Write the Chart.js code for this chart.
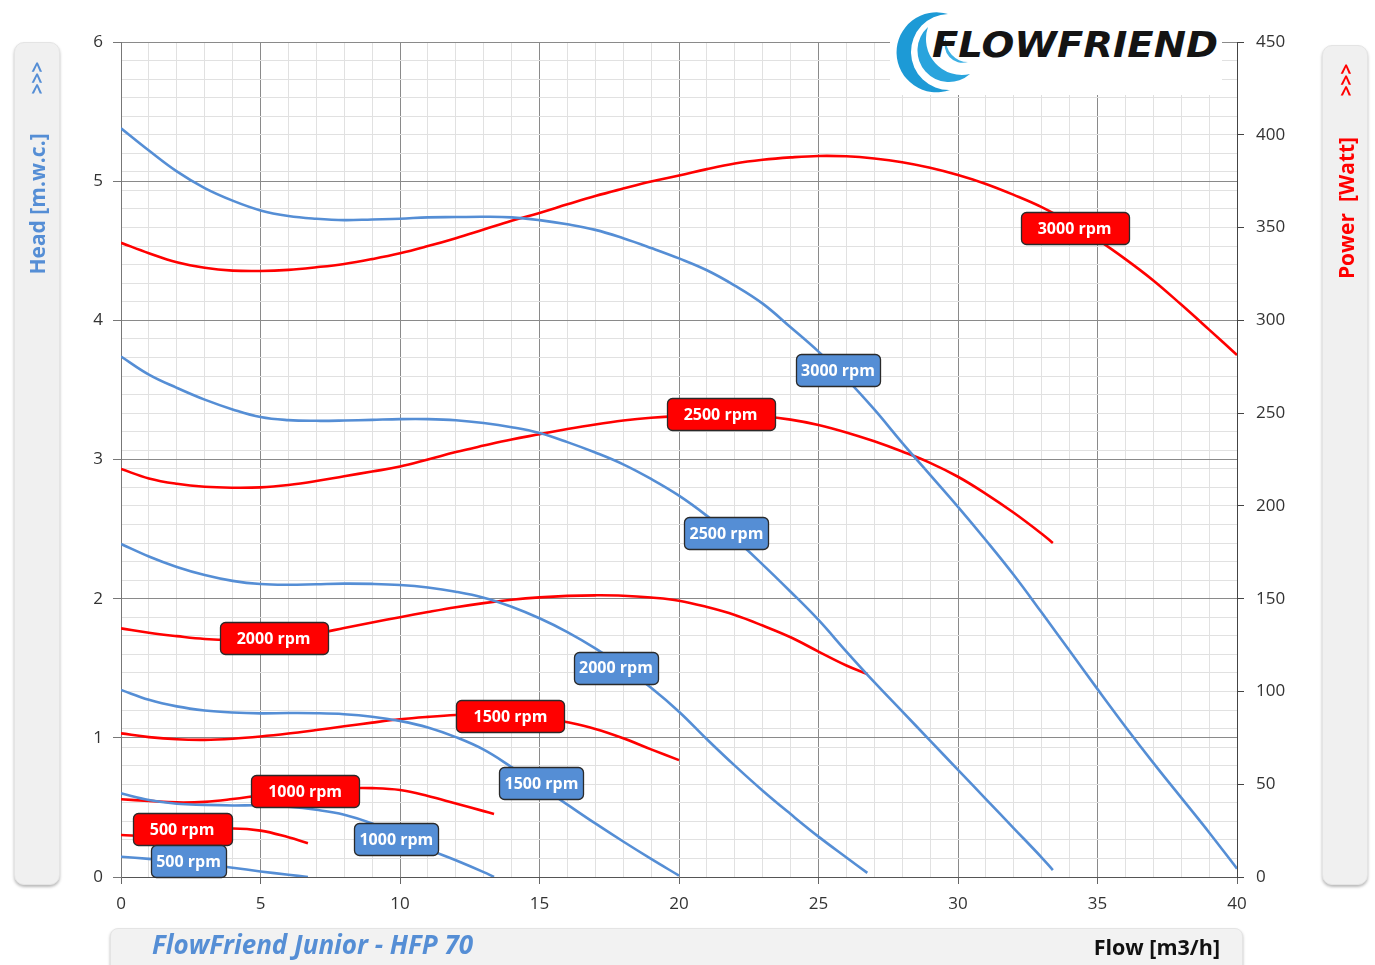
<!DOCTYPE html>
<html>
<head>
<meta charset="utf-8">
<title>FlowFriend Junior - HFP 70</title>
<script src="https://cdn.jsdelivr.net/npm/chart.js@4.4.0/dist/chart.umd.min.js"></script>
<style>
  body { margin: 0; background: #fff; font-family: "Open Sans", sans-serif; }
  #wrap { position: relative; width: 1375px; height: 965px; overflow: hidden; }
  #chart { position: absolute; left: 0; top: 0; }
  .panel { position: absolute; background: #f0f0f0; border: 1px solid #e4e4e4; border-radius: 10px;
           box-shadow: 0 2px 3px rgba(0, 0, 0, 0.28); }
  .vt { position: absolute; transform: translate(-50%, -50%) rotate(-90deg); white-space: pre;
        font-weight: bold; line-height: 1; }
  .foot { position: absolute; white-space: pre; font-weight: bold; line-height: 1; }
  #logo { position: absolute; left: 888px; top: 0; }
</style>
</head>
<body>
<div id="wrap">
  <canvas id="chart" width="1375" height="965"></canvas>

  <div class="panel" style="left:14px;top:42px;width:44px;height:841px"></div>
  <div class="vt" style="left:37px;top:78px;color:#558ed5;font-size:19px">&gt;&gt;&gt;</div>
  <div class="vt" style="left:37px;top:204px;color:#558ed5;font-size:21px">Head [m.w.c.]</div>

  <div class="panel" style="left:1322px;top:45px;width:44px;height:838px"></div>
  <div class="vt" style="left:1346px;top:80px;color:#ff0000;font-size:19px">&gt;&gt;&gt;</div>
  <div class="vt" style="left:1346px;top:208px;color:#ff0000;font-size:21px">Power  [Watt]</div>

  <div class="panel" style="left:110px;top:928px;width:1131px;height:50px;border-radius:8px;background:#f2f2f2"></div>
  <div class="foot" style="left:152px;top:931px;font-size:26px;font-style:italic;color:#558ed5">FlowFriend Junior - HFP 70</div>
  <div class="foot" style="right:155px;top:936px;font-size:21.5px;color:#111">Flow [m3/h]</div>

  <svg id="logo" width="334" height="95" viewBox="0 0 334 95">
    <rect x="2" y="0" width="332" height="95" fill="#fff"/>
    <path d="M 60 14 A 40 40 0 1 0 62 90 A 36 36 0 1 1 60 14 Z" fill="#1d9ad6"/>
    <path d="M 40 27 A 30 30 0 0 0 82 74 A 36 36 0 0 1 40 27 Z" fill="#2aa4dd"/>
    <path d="M 58 38 A 18 18 0 0 0 80 62 A 22 22 0 0 1 58 38 Z" fill="#3db0e4"/>
    <text x="44" y="57" font-family="DejaVu Sans" font-weight="bold" font-style="italic" font-size="35"
          textLength="286" lengthAdjust="spacingAndGlyphs" fill="#141414">FLOWFRIEND</text>
  </svg>
</div>

<script>
// pump curves
// flow in m3/h, head in m.w.c., power in W

const flow3000 = [0, 1, 2, 3, 4, 5, 6, 7, 8, 9, 10, 11, 12, 13, 14, 15, 16, 17, 18, 19, 20,
  21, 22, 23, 24, 25, 26, 27, 28, 29, 30, 31, 32, 33, 34, 35, 36, 37, 38, 39, 40];
const head3000 = [5.38, 5.22, 5.07, 4.95, 4.86, 4.79, 4.75, 4.73, 4.72, 4.725, 4.73, 4.74, 4.742, 4.744, 4.74,
  4.72, 4.69, 4.65, 4.59, 4.52, 4.445, 4.36, 4.25, 4.12, 3.95, 3.775, 3.58, 3.36, 3.12, 2.89,
  2.66, 2.42, 2.17, 1.9, 1.625, 1.35, 1.08, 0.82, 0.57, 0.32, 0.06];
const power3000 = [341.8, 336.2, 331.3, 328.3, 326.8, 326.6, 327.2, 328.6, 330.4, 333, 336.1, 340, 344.3, 349,
  353.7, 357.9, 362.5, 367, 371, 374.8, 378, 381.5, 384.5, 386.5, 387.8, 388.6, 388.4, 387.2, 385.2,
  382.2, 378.3, 373.5, 367.6, 361, 352.8, 343.5, 333, 321.5, 308.5, 295, 281.3];

const flow2500 = [0, 1, 2, 3, 4, 5, 6, 7, 8, 9, 10, 11, 12, 13, 14, 15, 16, 17, 18, 19, 20,
  21, 22, 23, 24, 25, 26, 27, 28, 29, 30, 31, 32, 33, 33.4];
const head2500 = [3.74, 3.61, 3.515, 3.43, 3.36, 3.305, 3.283, 3.278, 3.28, 3.285, 3.29, 3.29, 3.282, 3.262,
  3.232, 3.19, 3.125, 3.05, 2.965, 2.86, 2.74, 2.595, 2.43, 2.245, 2.05, 1.847, 1.62, 1.4, 1.19,
  0.98, 0.77, 0.56, 0.35, 0.14, 0.05];
const power2500 = [219.9, 214.8, 211.9, 210.3, 209.8, 210, 211.3, 213.4, 216, 218.5, 221.2, 225, 229, 232.5,
  235.8, 238.6, 241.4, 243.9, 246, 247.5, 248.4, 248.8, 248.8, 248.2, 246.5, 243.6, 239.6, 234.8,
  229.3, 223.2, 215.7, 206.5, 196.3, 185, 180];

const flow2000 = [0, 1, 2, 3, 4, 5, 6, 7, 8, 9, 10, 11, 12, 13, 14, 15, 16, 17, 18, 19, 20,
  21, 22, 23, 24, 25, 26, 26.75];
const head2000 = [2.393, 2.303, 2.228, 2.17, 2.128, 2.105, 2.1, 2.104, 2.108, 2.106, 2.098, 2.08, 2.05, 2.007,
  1.942, 1.859, 1.76, 1.643, 1.51, 1.36, 1.188, 0.99, 0.8, 0.62, 0.452, 0.29, 0.14, 0.03];
const power2000 = [134, 131.6, 129.8, 128.3, 127.8, 128.2, 129.4, 131.2, 134.2, 137.2, 140, 142.8, 145.4,
  147.6, 149.4, 150.7, 151.5, 151.8, 151.6, 150.6, 148.9, 145.5, 141.2, 135.5, 129.2, 121.5, 114, 109.4];

const flow1500 = [0, 1, 2, 3, 4, 5, 6, 7, 8, 9, 10, 11, 12, 13, 14, 15, 16, 17, 18, 19, 20];
const head1500 = [1.344, 1.273, 1.226, 1.197, 1.182, 1.176, 1.178, 1.177, 1.17, 1.152, 1.121, 1.075, 1.005,
  0.915, 0.79, 0.655, 0.52, 0.385, 0.255, 0.13, 0.01];
const power1500 = [77.4, 75.4, 74.2, 73.9, 74.5, 75.7, 77.3, 79.2, 81.2, 83.2, 85, 86.3, 87.3, 87.8, 87.6,
  86.3, 83.4, 79.8, 74.8, 68.8, 63];

const flow1000 = [0, 1, 2, 3, 4, 5, 6, 7, 8, 9, 10, 11, 12, 13, 13.37];
const head1000 = [0.601, 0.553, 0.526, 0.518, 0.514, 0.515, 0.505, 0.483, 0.448, 0.385, 0.295, 0.2, 0.12,
  0.035, 0];
const power1000 = [41.9, 41, 40.2, 40.5, 42, 44, 45.8, 47, 47.8, 47.9, 46.9, 43.7, 39.6, 35.5, 34];

const flow500 = [0, 1, 2, 3, 4, 5, 6, 6.7];
const head500 = [0.146, 0.13, 0.113, 0.093, 0.067, 0.04, 0.016, 0];
const power500 = [22.6, 22.2, 23.4, 25, 26.1, 25, 21.4, 18.2];

// speed tags sitting on the curves
const powerTagText = ["3000 rpm", "2500 rpm", "2000 rpm", "1500 rpm", "1000 rpm", "500 rpm"];
const powerTagFlow = [34.18, 21.49, 5.47, 13.96, 6.6, 2.19];
const powerTagWatt = [349.5, 249.4, 128.8, 86.8, 46.3, 25.6];
const headTagText = ["3000 rpm", "2500 rpm", "2000 rpm", "1500 rpm", "1000 rpm", "500 rpm"];
const headTagFlow = [25.7, 21.7, 17.74, 15.07, 9.87, 2.42];
const headTagHead = [3.64, 2.47, 1.505, 0.675, 0.273, 0.115];

const headColor = "#558ed5";
const powerColor = "#ff0000";
const majorGrid = "#8a8a8a";
const minorGrid = "#e1e1e1";
const tickFont = { family: "'Open Sans'", size: 17 };
const clear = "rgba(0,0,0,0)";

const pts = (qs, vs) => qs.map((q, i) => ({ x: q, y: vs[i] }));

function curve(data, color, axis) {
  return {
    data,
    yAxisID: axis,
    borderColor: color,
    borderWidth: 2.6,
    pointRadius: 0,
    fill: false,
    tension: 0.4,
  };
}

const rpmTags = {
  id: "rpmTags",
  afterDatasetsDraw(chart) {
    const { ctx, scales } = chart;
    ctx.save();
    ctx.font = "bold 16px 'Open Sans'";
    ctx.textAlign = "center";
    ctx.textBaseline = "middle";
    const tag = (txt, px, py, fill, padX) => {
      const w = Math.round(ctx.measureText(txt).width + padX * 2);
      const h = 32;
      ctx.beginPath();
      ctx.roundRect(Math.round(px - w / 2) + 0.5, Math.round(py - h / 2) + 0.5, w, h, 5);
      ctx.fillStyle = fill;
      ctx.fill();
      ctx.lineWidth = 1.3;
      ctx.strokeStyle = "#2a2a2a";
      ctx.stroke();
      ctx.fillStyle = "#fff";
      ctx.fillText(txt, px, py + 1);
    };
    powerTagText.forEach((t, i) =>
      tag(t, scales.x.getPixelForValue(powerTagFlow[i]), scales.y1.getPixelForValue(powerTagWatt[i]), powerColor, 17));
    headTagText.forEach((t, i) =>
      tag(t, scales.x.getPixelForValue(headTagFlow[i]), scales.y.getPixelForValue(headTagHead[i]), headColor, 5));
    ctx.restore();
  },
};

new Chart(document.getElementById("chart"), {
  type: "line",
  data: {
    datasets: [
      curve(pts(flow3000, head3000), headColor, "y"),
      curve(pts(flow2500, head2500), headColor, "y"),
      curve(pts(flow2000, head2000), headColor, "y"),
      curve(pts(flow1500, head1500), headColor, "y"),
      curve(pts(flow1000, head1000), headColor, "y"),
      curve(pts(flow500, head500), headColor, "y"),
      curve(pts(flow3000, power3000), powerColor, "y1"),
      curve(pts(flow2500, power2500), powerColor, "y1"),
      curve(pts(flow2000, power2000), powerColor, "y1"),
      curve(pts(flow1500, power1500), powerColor, "y1"),
      curve(pts(flow1000, power1000), powerColor, "y1"),
      curve(pts(flow500, power500), powerColor, "y1"),
    ],
  },
  options: {
    responsive: false,
    animation: false,
    devicePixelRatio: 1,
    layout: { padding: { left: 61, right: 58, top: 42, bottom: 38 } },
    plugins: { legend: { display: false }, tooltip: { enabled: false } },
    scales: {
      x: {
        type: "linear",
        min: 0,
        max: 40,
        ticks: {
          stepSize: 1,
          autoSkip: false,
          maxRotation: 0,
          padding: 10,
          color: "#333",
          font: tickFont,
          callback: (v) => (Math.round(v) % 5 === 0 ? Math.round(v) : ""),
        },
        grid: {
          color: (c) => (Math.round(c.tick.value) % 5 === 0 ? majorGrid : minorGrid),
          tickColor: (c) => (Math.round(c.tick.value) % 5 === 0 ? "#666" : clear),
          tickLength: 7,
        },
        border: { color: "#555" },
        afterFit: (s) => { s.height = 50; },
      },
      y: {
        position: "left",
        min: 0,
        max: 6,
        ticks: { stepSize: 1, padding: 10, color: "#333", font: tickFont },
        grid: { color: majorGrid, tickColor: "#777", tickLength: 8 },
        border: { color: "#777" },
        afterFit: (s) => { s.width = 60; },
      },
      y1: {
        position: "right",
        min: 0,
        max: 450,
        ticks: {
          stepSize: 10,
          autoSkip: false,
          padding: 12,
          color: "#333",
          font: tickFont,
          callback: (v) => (Math.round(v) % 50 === 0 ? Math.round(v) : ""),
        },
        grid: {
          color: (c) => (Math.round(c.tick.value) % 150 === 0 ? clear : minorGrid),
          tickColor: (c) => (Math.round(c.tick.value) % 50 === 0 ? "#444" : clear),
          tickLength: 7,
        },
        border: { color: "#444" },
        afterFit: (s) => { s.width = 80; },
      },
    },
  },
  plugins: [rpmTags],
});
</script>
</body>
</html>
